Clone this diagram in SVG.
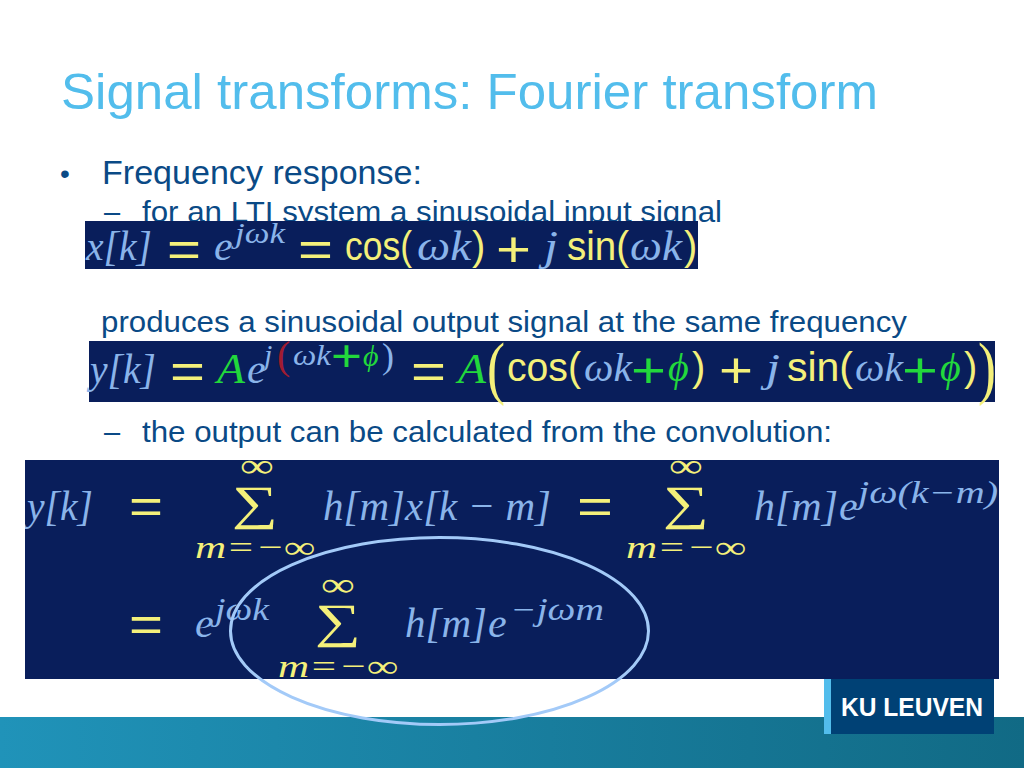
<svg xmlns="http://www.w3.org/2000/svg" width="1024" height="768" viewBox="0 0 1024 768">
<defs>
<linearGradient id="band" x1="0" x2="1" y1="0" y2="0"><stop offset="0" stop-color="#2093b9"/><stop offset="1" stop-color="#116a85"/></linearGradient>
<clipPath id="eq3clip"><rect x="25" y="460" width="974" height="219"/></clipPath>
</defs>
<style>
.body{font-family:"Liberation Sans",Arial,sans-serif;fill:#0a4a86}
.box{fill:#091e5b}
.m{font-family:"Liberation Serif","DejaVu Serif",serif;font-style:italic;fill:#8ab4ea}
.u{font-family:"Liberation Serif","DejaVu Serif",serif;fill:#8ab4ea}
.y{font-family:"Liberation Sans",sans-serif;fill:#f4f07a}
.ym{font-family:"Liberation Serif","DejaVu Serif",serif;font-style:italic;fill:#f4f07a}
.g{font-family:"Liberation Serif","DejaVu Serif",serif;font-style:italic;fill:#22d83c}
.gp{font-family:"Liberation Sans",sans-serif;fill:#22d83c}
.s{font-family:"Liberation Serif","DejaVu Serif",serif;fill:#f4f07a}
</style>
<rect width="1024" height="768" fill="#fff"/>
<rect x="0" y="717" width="1024" height="51" fill="url(#band)"/>
<text x="61" y="109" font-family="Liberation Sans, Arial, sans-serif" font-size="50" fill="#52bdec" textLength="817" lengthAdjust="spacingAndGlyphs">Signal transforms: Fourier transform</text>
<text class="body" x="60" y="183" font-size="28">•</text>
<text class="body" x="102" y="184" font-size="33" textLength="320" lengthAdjust="spacingAndGlyphs">Frequency response:</text>
<text class="body" x="104" y="222" font-size="29">–</text>
<text class="body" x="142" y="222" font-size="29" textLength="580" lengthAdjust="spacingAndGlyphs">for an LTI system a sinusoidal input signal</text>
<text class="body" x="101" y="332" font-size="29" textLength="806" lengthAdjust="spacingAndGlyphs">produces a sinusoidal output signal at the same frequency</text>
<text class="body" x="104" y="442" font-size="29">–</text>
<text class="body" x="142" y="442" font-size="29" textLength="690" lengthAdjust="spacingAndGlyphs">the output can be calculated from the convolution:</text>

<g id="eq1">
<rect class="box" x="85" y="221" width="613" height="48"/>
<text class="m" x="86" y="260" font-size="42" textLength="66" lengthAdjust="spacingAndGlyphs">x[k]</text>
<text class="y" x="167" y="266" font-size="50" textLength="34" lengthAdjust="spacingAndGlyphs">=</text>
<text class="m" x="214" y="260" font-size="42">e</text>
<text class="m" x="235" y="243" font-size="30" textLength="50" lengthAdjust="spacingAndGlyphs">jωk</text>
<text class="y" x="298" y="266" font-size="50" textLength="35" lengthAdjust="spacingAndGlyphs">=</text>
<text class="y" x="345" y="260" font-size="40" textLength="67" lengthAdjust="spacingAndGlyphs">cos(</text>
<text class="m" x="417" y="260" font-size="42" textLength="54" lengthAdjust="spacingAndGlyphs">ωk</text>
<text class="y" x="472" y="260" font-size="40">)</text>
<text class="y" x="496" y="266" font-size="50" textLength="35" lengthAdjust="spacingAndGlyphs">+</text>
<text class="m" x="544" y="260" font-size="42" textLength="14" lengthAdjust="spacingAndGlyphs">j</text>
<text class="y" x="567" y="260" font-size="40" textLength="62" lengthAdjust="spacingAndGlyphs">sin(</text>
<text class="m" x="630" y="260" font-size="42" textLength="52" lengthAdjust="spacingAndGlyphs">ωk</text>
<text class="y" x="684" y="260" font-size="40">)</text>
</g>

<g id="eq2">
<rect class="box" x="89" y="341" width="906" height="61"/>
<text class="m" x="90" y="383" font-size="42" textLength="66" lengthAdjust="spacingAndGlyphs">y[k]</text>
<text class="y" x="170" y="388" font-size="50" textLength="35" lengthAdjust="spacingAndGlyphs">=</text>
<text class="g" x="217" y="383" font-size="42" textLength="28" lengthAdjust="spacingAndGlyphs">A</text>
<text class="m" x="247" y="383" font-size="42">e</text>
<text class="m" x="264" y="365" font-size="30">j</text>
<text class="u" x="277" y="369" font-size="40" style="fill:#a01c30">(</text>
<text class="m" x="293" y="365" font-size="30" textLength="38" lengthAdjust="spacingAndGlyphs">ωk</text>
<text class="gp" x="331" y="371" font-size="44" textLength="31" lengthAdjust="spacingAndGlyphs">+</text>
<text class="g" x="363" y="366" font-size="30">ϕ</text>
<text class="u" x="382" y="368" font-size="36">)</text>
<text class="y" x="411" y="388" font-size="50" textLength="35" lengthAdjust="spacingAndGlyphs">=</text>
<text class="g" x="458" y="383" font-size="42" textLength="28" lengthAdjust="spacingAndGlyphs">A</text>
<text class="s" x="487" y="391" font-size="70" textLength="18" lengthAdjust="spacingAndGlyphs">(</text>
<text class="y" x="507" y="381" font-size="40" textLength="74" lengthAdjust="spacingAndGlyphs">cos(</text>
<text class="m" x="584" y="381" font-size="40" textLength="48" lengthAdjust="spacingAndGlyphs">ωk</text>
<text class="gp" x="631" y="387" font-size="50" textLength="35" lengthAdjust="spacingAndGlyphs">+</text>
<text class="g" x="668" y="381" font-size="40">ϕ</text>
<text class="y" x="692" y="381" font-size="40">)</text>
<text class="y" x="719" y="387" font-size="50" textLength="34" lengthAdjust="spacingAndGlyphs">+</text>
<text class="m" x="766" y="381" font-size="40" textLength="14" lengthAdjust="spacingAndGlyphs">j</text>
<text class="y" x="787" y="381" font-size="40" textLength="66" lengthAdjust="spacingAndGlyphs">sin(</text>
<text class="m" x="855" y="381" font-size="40" textLength="48" lengthAdjust="spacingAndGlyphs">ωk</text>
<text class="gp" x="902" y="387" font-size="50" textLength="36" lengthAdjust="spacingAndGlyphs">+</text>
<text class="g" x="940" y="381" font-size="40">ϕ</text>
<text class="y" x="964" y="381" font-size="40">)</text>
<text class="s" x="978" y="391" font-size="70" textLength="18" lengthAdjust="spacingAndGlyphs">)</text>
</g>

<g id="eq3">
<rect class="box" x="25" y="460" width="974" height="219"/>
<g clip-path="url(#eq3clip)">
<text class="m" x="27" y="520" font-size="42" textLength="66" lengthAdjust="spacingAndGlyphs">y[k]</text>
<text class="y" x="129" y="523" font-size="50" textLength="34" lengthAdjust="spacingAndGlyphs">=</text>
<text class="s" x="240" y="477" font-size="34" textLength="34" lengthAdjust="spacingAndGlyphs">∞</text>
<text class="s" x="232" y="519" font-size="48" textLength="46" lengthAdjust="spacingAndGlyphs">∑</text>
<text class="ym" x="195" y="558" font-size="32" textLength="120" lengthAdjust="spacingAndGlyphs">m=−∞</text>
<text class="m" x="323" y="520" font-size="42" textLength="228" lengthAdjust="spacingAndGlyphs">h[m]x[k − m]</text>
<text class="y" x="577" y="523" font-size="50" textLength="36" lengthAdjust="spacingAndGlyphs">=</text>
<text class="s" x="669" y="477" font-size="34" textLength="34" lengthAdjust="spacingAndGlyphs">∞</text>
<text class="s" x="663" y="519" font-size="48" textLength="46" lengthAdjust="spacingAndGlyphs">∑</text>
<text class="ym" x="626" y="558" font-size="32" textLength="120" lengthAdjust="spacingAndGlyphs">m=−∞</text>
<text class="m" x="754" y="520" font-size="42" textLength="84" lengthAdjust="spacingAndGlyphs">h[m]</text>
<text class="m" x="839" y="520" font-size="42">e</text>
<text class="m" x="858" y="503" font-size="31" textLength="140" lengthAdjust="spacingAndGlyphs">jω(k−m)</text>
<text class="y" x="129" y="641" font-size="50" textLength="34" lengthAdjust="spacingAndGlyphs">=</text>
<text class="m" x="195" y="637" font-size="42">e</text>
<text class="m" x="215" y="620" font-size="31" textLength="54" lengthAdjust="spacingAndGlyphs">jωk</text>
<text class="s" x="321" y="596" font-size="34" textLength="34" lengthAdjust="spacingAndGlyphs">∞</text>
<text class="s" x="315" y="637" font-size="48" textLength="46" lengthAdjust="spacingAndGlyphs">∑</text>
<text class="ym" x="278" y="677" font-size="32" textLength="120" lengthAdjust="spacingAndGlyphs">m=−∞</text>
<text class="m" x="405" y="637" font-size="42" textLength="82" lengthAdjust="spacingAndGlyphs">h[m]</text>
<text class="m" x="488" y="637" font-size="42">e</text>
<text class="m" x="510" y="620" font-size="31" textLength="94" lengthAdjust="spacingAndGlyphs">−jωm</text>
</g>
</g>

<g id="logo">
<rect x="824" y="679" width="170" height="55" fill="#004175"/>
<rect x="824" y="679" width="7" height="55" fill="#52bdec"/>
<text x="841" y="716" font-family="Liberation Sans, Arial, sans-serif" font-weight="700" font-size="26" fill="#fff" textLength="142" lengthAdjust="spacingAndGlyphs">KU LEUVEN</text>
</g>
<ellipse id="highlight" cx="439.500" cy="631" rx="209" ry="93.500" fill="none" stroke="#a3caf8" stroke-width="3"/>
</svg>
